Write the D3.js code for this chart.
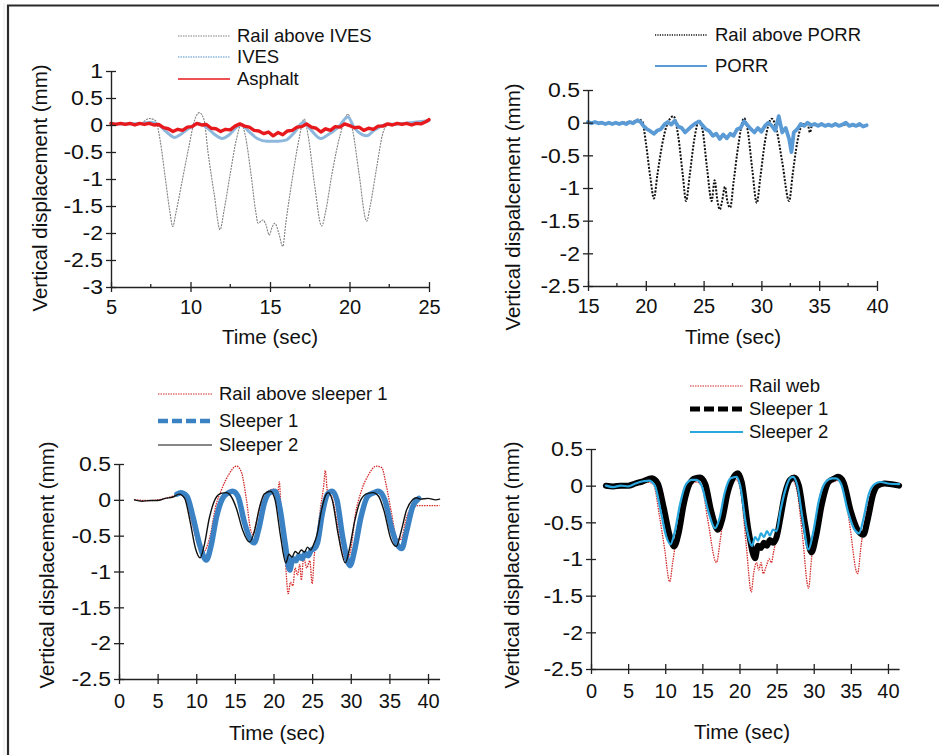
<!DOCTYPE html>
<html>
<head>
<meta charset="utf-8">
<script src="https://cdn.jsdelivr.net/npm/d3@7"></script>
<style>
  html, body { margin: 0; padding: 0; background: #fff; }
  svg { display: block; font-family: "Liberation Sans", Arial, sans-serif; }
</style>
</head>
<body>
<svg id="chart" width="939" height="755"></svg>
<script>
// ---------- Panel (a): rail above IVES, IVES and asphalt ----------
const railAboveIves = [[5,0.02],[6,0.02],[6.9,0.04],[7.4,0.12],[7.8,0.08],[8.1,-0.3],[8.4,-0.95],[8.7,-1.6],[8.88,-1.88],[9.1,-1.6],[9.5,-1.0],[9.9,-0.4],[10.25,0.08],[10.55,0.23],[10.85,0.1],[11.1,-0.5],[11.5,-1.3],[11.86,-1.94],[12.1,-1.6],[12.5,-0.9],[12.9,-0.25],[13.2,0.02],[13.45,-0.2],[13.8,-0.9],[14.1,-1.6],[14.25,-1.82],[14.55,-1.76],[14.75,-1.85],[14.95,-2.04],[15.15,-1.88],[15.3,-1.82],[15.55,-2.0],[15.8,-2.25],[16.0,-1.8],[16.4,-1.0],[16.8,-0.3],[17.15,0.11],[17.4,-0.2],[17.8,-1.1],[18.25,-1.87],[18.5,-1.6],[18.9,-0.9],[19.4,-0.2],[19.9,0.2],[20.2,-0.1],[20.6,-0.9],[21.08,-1.78],[21.3,-1.5],[21.7,-0.8],[22.1,-0.15],[22.4,0.0],[23,0.02],[24,0.03],[24.6,0.03],[25,0.08]];
const ives = [[5,0.02],[7,0.03],[7.5,0.05],[8,0.0],[8.5,-0.13],[9.0,-0.23],[9.4,-0.17],[10,-0.04],[10.5,0.03],[11,-0.04],[11.5,-0.17],[12.0,-0.25],[12.4,-0.19],[12.9,-0.04],[13.2,0.01],[13.6,-0.1],[14.2,-0.25],[14.8,-0.3],[15.5,-0.3],[16.0,-0.28],[16.5,-0.15],[17.1,0.05],[17.6,-0.1],[18.2,-0.25],[18.6,-0.19],[19.3,-0.04],[19.9,0.15],[20.3,-0.05],[20.8,-0.18],[21.1,-0.2],[21.5,-0.11],[22.2,0.0],[23,0.02],[25,0.08]];
const asphalt = [[5.0,0.03],[5.3,0.01],[5.6,0.03],[5.9,0.01],[6.2,0.03],[6.5,0.0],[6.8,0.03],[7.1,0.01],[7.4,0.03],[7.7,0.0],[8.0,0.01],[8.3,-0.05],[8.6,-0.07],[8.9,-0.12],[9.2,-0.08],[9.5,-0.1],[9.8,-0.04],[10.1,-0.03],[10.4,0.03],[10.7,0.0],[11.0,0.01],[11.3,-0.06],[11.6,-0.07],[11.9,-0.12],[12.2,-0.08],[12.5,-0.09],[12.8,-0.02],[13.1,0.02],[13.4,-0.02],[13.7,-0.04],[14.0,-0.1],[14.3,-0.11],[14.6,-0.16],[14.9,-0.13],[15.2,-0.2],[15.5,-0.14],[15.8,-0.18],[16.1,-0.11],[16.4,-0.1],[16.7,-0.04],[17.0,-0.03],[17.3,0.02],[17.6,-0.04],[17.9,-0.06],[18.2,-0.13],[18.5,-0.07],[18.8,-0.1],[19.1,-0.03],[19.4,-0.04],[19.7,0.02],[20.0,-0.01],[20.3,-0.05],[20.6,-0.04],[20.9,-0.1],[21.2,-0.06],[21.5,-0.08],[21.8,-0.02],[22.1,-0.02],[22.4,0.02],[22.7,0.0],[23.0,0.03],[23.3,0.01],[23.6,0.03],[23.9,0.0],[24.2,0.03],[24.5,0.02],[24.8,0.06],[25.0,0.1]];
const ticksXa = [5, 10, 15, 20, 25];
const ticksYa = [1, 0.5, 0, -0.5, -1, -1.5, -2, -2.5, -3];

// ---------- Panel (b): rail above PORR and PORR ----------
const railAbovePorr = [[15,0.0],[16,0.0],[17,-0.01],[18,0.0],[19,0.02],[19.4,0.05],[19.7,0.02],[20.0,-0.3],[20.4,-0.85],[20.7,-1.16],[21.0,-0.8],[21.4,-0.35],[21.8,-0.05],[22.4,0.1],[22.8,-0.2],[23.2,-0.8],[23.48,-1.2],[23.8,-0.8],[24.2,-0.25],[24.6,0.03],[24.9,-0.1],[25.3,-0.7],[25.7,-1.2],[25.95,-0.88],[26.2,-1.2],[26.4,-1.33],[26.6,-1.2],[26.85,-0.98],[27.05,-1.2],[27.3,-1.3],[27.6,-0.9],[28.0,-0.35],[28.5,0.07],[28.8,-0.1],[29.2,-0.7],[29.6,-1.23],[29.9,-0.85],[30.3,-0.3],[30.9,0.06],[31.3,-0.1],[31.8,-0.6],[32.4,-1.2],[32.7,-0.8],[33.1,-0.3],[33.6,-0.02],[34.0,-0.03],[34.2,-0.15],[34.4,-0.03],[35,-0.03],[36,-0.04],[37,-0.03],[38,-0.04],[39,-0.05]];
const porr = [[15.0,0.01],[15.3,-0.01],[15.6,0.01],[15.9,-0.01],[16.2,0.0],[16.5,-0.02],[16.8,0.0],[17.1,-0.02],[17.4,0.0],[17.7,-0.02],[18.0,0.0],[18.3,-0.02],[18.6,0.01],[18.9,-0.01],[19.2,0.03],[19.5,0.02],[19.8,-0.05],[20.1,-0.1],[20.4,-0.13],[20.7,-0.17],[21.0,-0.12],[21.3,-0.1],[21.6,-0.03],[21.9,0.01],[22.2,-0.03],[22.5,0.03],[22.8,-0.06],[23.1,-0.08],[23.4,-0.15],[23.7,-0.1],[24.0,-0.05],[24.3,-0.01],[24.6,0.02],[24.9,-0.04],[25.2,-0.1],[25.5,-0.13],[25.8,-0.2],[26.1,-0.17],[26.4,-0.25],[26.7,-0.18],[27.0,-0.24],[27.3,-0.17],[27.6,-0.2],[27.9,-0.1],[28.2,-0.08],[28.5,0.02],[28.8,-0.04],[29.1,-0.1],[29.4,-0.15],[29.7,-0.08],[30.0,-0.14],[30.3,-0.05],[30.6,0.0],[30.9,-0.05],[31.2,-0.12],[31.5,0.1],[31.8,-0.15],[32.1,-0.08],[32.4,-0.25],[32.6,-0.45],[32.8,-0.15],[33.1,-0.1],[33.4,-0.02],[33.7,-0.05],[34.0,0.0],[34.3,-0.04],[34.6,-0.02],[34.9,-0.05],[35.2,-0.02],[35.5,-0.05],[35.8,-0.03],[36.1,-0.05],[36.4,-0.02],[36.7,-0.05],[37.0,-0.03],[37.3,0.0],[37.6,-0.05],[37.9,-0.03],[38.2,-0.05],[38.5,-0.02],[38.8,-0.06],[39.1,-0.04]];
const ticksXb = [15, 20, 25, 30, 35, 40];
const ticksYb = [0.5, 0, -0.5, -1, -1.5, -2, -2.5];

// ---------- Panel (c): rail above sleeper 1, sleeper 1 and sleeper 2 ----------
const railAboveSleeper1 = [[2,0.0],[4,-0.01],[6,0.02],[7.8,0.07],[8.6,0.02],[9.4,-0.3],[10.2,-0.62],[10.8,-0.75],[11.2,-0.7],[11.8,-0.5],[12.5,-0.1],[13.3,0.15],[14.2,0.35],[15.2,0.47],[15.8,0.4],[16.5,0.0],[17.0,-0.4],[17.3,-0.48],[17.8,-0.3],[18.5,0.0],[19.3,0.12],[20.0,0.15],[20.5,0.05],[20.75,0.25],[21.0,-0.2],[21.5,-0.8],[21.9,-1.31],[22.2,-1.15],[22.5,-1.2],[22.8,-0.95],[23.1,-1.05],[23.4,-0.9],[23.6,-1.12],[23.9,-0.8],[24.3,-0.95],[24.7,-0.85],[25.0,-1.17],[25.3,-0.75],[25.6,-0.55],[26.1,-0.1],[26.5,0.2],[26.7,0.41],[27.0,0.1],[27.5,0.05],[28.2,-0.3],[28.8,-0.7],[29.4,-0.85],[30.0,-0.7],[30.6,-0.2],[31.3,0.1],[32.3,0.35],[33.3,0.47],[34.0,0.45],[34.6,0.2],[35.3,-0.2],[36.0,-0.55],[36.5,-0.55],[37.2,-0.25],[38.0,-0.1],[38.9,-0.08],[40,-0.08],[41.5,-0.08]];
const sleeper1c = [[7.5,0.08],[8,0.1],[8.8,0.05],[9.6,-0.25],[10.5,-0.65],[11.3,-0.84],[11.9,-0.65],[12.6,-0.25],[13.4,0.02],[14.2,0.1],[14.7,0.12],[15.4,0.05],[16.2,-0.3],[17.0,-0.55],[17.5,-0.6],[18.1,-0.4],[18.8,-0.05],[19.5,0.1],[20.2,0.12],[20.8,-0.1],[21.5,-0.6],[22.1,-0.98],[22.5,-0.82],[22.9,-0.85],[23.3,-0.78],[23.7,-0.82],[24.1,-0.75],[24.5,-0.78],[24.9,-0.7],[25.3,-0.68],[25.7,-0.6],[26.3,-0.2],[27.0,0.08],[27.6,0.12],[28.2,0.0],[29.0,-0.55],[29.9,-0.92],[30.5,-0.7],[31.3,-0.25],[32.2,0.05],[33.0,0.1],[33.6,0.12],[34.4,0.0],[35.3,-0.4],[36.0,-0.62],[36.6,-0.68],[37.2,-0.45],[38.0,-0.1],[38.8,0.02]];
const sleeper2c = [[2,0.0],[3,-0.02],[4,-0.01],[5,-0.01],[6,0.02],[7,0.04],[7.8,0.08],[8.5,0.02],[9.2,-0.3],[9.9,-0.68],[10.5,-0.81],[11.0,-0.65],[11.7,-0.25],[12.5,0.02],[13.2,0.09],[13.9,0.1],[14.5,0.05],[15.2,-0.12],[16.0,-0.42],[16.9,-0.59],[17.5,-0.45],[18.2,-0.1],[18.8,0.08],[19.6,0.12],[20.2,0.0],[20.9,-0.5],[21.6,-0.88],[22.0,-0.76],[22.4,-0.8],[22.8,-0.72],[23.2,-0.75],[23.6,-0.7],[24.0,-0.73],[24.4,-0.66],[24.8,-0.7],[25.2,-0.62],[25.6,-0.5],[26.2,-0.15],[26.7,0.05],[27.1,0.1],[27.6,0.0],[28.4,-0.5],[29.3,-0.88],[29.8,-0.7],[30.5,-0.3],[31.3,0.0],[32.2,0.09],[32.9,0.1],[33.6,0.05],[34.3,-0.15],[35.2,-0.55],[35.9,-0.65],[36.5,-0.45],[37.2,-0.15],[38.0,0.0],[38.5,0.03],[39,0.01],[40,0.02],[41,0.0],[41.5,0.01]];
const ticksXc = [0, 5, 10, 15, 20, 25, 30, 35, 40];
const ticksYc = [0.5, 0, -0.5, -1, -1.5, -2, -2.5];

// ---------- Panel (d): rail web, sleeper 1 and sleeper 2 ----------
const railWeb = [[2,0.0],[4,0.0],[6,0.02],[7.5,0.05],[8.4,0.02],[9.2,-0.4],[9.9,-0.85],[10.6,-1.31],[11.0,-1.05],[11.6,-0.65],[12.4,-0.25],[13.3,0.0],[14.2,0.05],[14.9,0.0],[15.7,-0.45],[16.9,-1.05],[17.4,-0.75],[18.0,-0.3],[18.8,0.0],[19.6,0.08],[20.2,-0.1],[20.9,-0.8],[21.6,-1.45],[21.9,-1.2],[22.3,-1.05],[22.6,-1.15],[22.9,-1.05],[23.2,-1.2],[23.6,-1.1],[24.0,-1.0],[24.3,-1.05],[24.6,-0.9],[25.0,-0.7],[25.5,-0.4],[26.2,-0.05],[27.2,0.07],[27.8,-0.1],[28.5,-0.7],[29.3,-1.4],[29.7,-1.0],[30.4,-0.4],[31.3,0.0],[32.5,0.05],[33.3,0.07],[34.0,0.0],[34.8,-0.5],[35.9,-1.2],[36.4,-0.8],[37.2,-0.3],[38.2,0.0],[39,0.02],[41.5,0.0]];
const sleeper1d = [[2,0.0],[3,-0.01],[4,0.0],[5,0.0],[6,0.03],[7,0.06],[8.2,0.1],[9.0,0.03],[9.8,-0.3],[10.6,-0.68],[11.2,-0.83],[11.8,-0.65],[12.5,-0.25],[13.3,0.03],[14.0,0.1],[14.7,0.11],[15.4,0.02],[16.2,-0.35],[17.1,-0.6],[17.7,-0.45],[18.4,-0.1],[19.1,0.1],[19.8,0.17],[20.3,0.05],[21.2,-0.6],[22.1,-0.99],[22.5,-0.82],[22.9,-0.85],[23.3,-0.78],[23.7,-0.82],[24.1,-0.74],[24.5,-0.78],[25.0,-0.7],[25.5,-0.45],[26.1,-0.12],[26.8,0.08],[27.4,0.11],[28.0,0.0],[28.8,-0.5],[29.7,-0.91],[30.3,-0.7],[31.1,-0.25],[32.0,0.05],[32.8,0.1],[33.3,0.12],[34.0,0.05],[35.0,-0.35],[35.9,-0.6],[36.7,-0.67],[37.3,-0.45],[38.0,-0.12],[38.6,0.0],[39.5,0.03],[40.5,0.02],[41.5,0.0]];
const sleeper2d = [[2,0.0],[3,-0.02],[4,0.0],[5,-0.01],[6,0.03],[7,0.06],[7.8,0.07],[8.6,0.0],[9.4,-0.35],[10.1,-0.68],[10.7,-0.8],[11.3,-0.62],[12.0,-0.25],[12.8,0.02],[13.6,0.08],[14.2,0.08],[14.9,0.0],[15.8,-0.35],[16.7,-0.58],[17.3,-0.45],[18.0,-0.1],[18.8,0.1],[19.6,0.12],[20.1,0.0],[20.9,-0.55],[21.7,-0.82],[22.1,-0.7],[22.5,-0.75],[22.9,-0.65],[23.3,-0.7],[23.7,-0.62],[24.1,-0.68],[24.5,-0.6],[25.0,-0.62],[25.5,-0.35],[26.2,-0.05],[26.8,0.1],[27.2,0.12],[27.8,0.0],[28.5,-0.45],[29.3,-0.87],[29.9,-0.65],[30.7,-0.2],[31.6,0.05],[32.5,0.1],[33.0,0.1],[33.7,0.02],[34.6,-0.35],[35.5,-0.6],[36.1,-0.65],[36.7,-0.45],[37.4,-0.12],[38.2,0.02],[39,0.05],[40,0.03],[41.5,0.02]];
const ticksXd = [0, 5, 10, 15, 20, 25, 30, 35, 40];
const ticksYd = [0.5, 0, -0.5, -1, -1.5, -2, -2.5];

// ---------- drawing ----------
const svg = d3.select("#chart");
svg.append("rect").attr("width", 939).attr("height", 755).attr("fill", "#fff");

// figure frame (left and top edges)
svg.append("line").attr("x1", 4).attr("x2", 4).attr("y1", 3).attr("y2", 755).attr("stroke", "#e4e4e4").attr("stroke-width", 1);
svg.append("path").attr("d", "M8,755 L8,5.5 L939,5.5").attr("fill", "none").attr("stroke", "#2a2a2a").attr("stroke-width", 2.2);

// y tick labels are set a little wide
const yLabelStretch = 1.18;

function drawPanel(p) {
  const g = svg.append("g");
  const x = d3.scaleLinear().domain(p.xDomain).range(p.xRange);
  const y = d3.scaleLinear().domain(p.yDomain).range(p.yRange);

  // series
  p.series.forEach(s => {
    const line = d3.line().x(d => x(d[0])).y(d => y(d[1]))
      .curve(s.smooth ? d3.curveMonotoneX : d3.curveLinear);
    g.append("path").datum(s.data)
      .attr("d", line)
      .attr("fill", "none")
      .attr("stroke", s.color)
      .attr("stroke-width", s.width)
      .attr("stroke-dasharray", s.plotDash || null)
      .attr("stroke-linejoin", "round")
      .attr("stroke-linecap", s.plotDash ? "butt" : "round");
  });

  // y axis with ticks crossing the spine
  const x0 = p.xRange[0], y0 = p.yRange[0];
  const yAxis = g.append("g").attr("transform", `translate(${x0},0)`)
    .call(d3.axisLeft(y).tickValues(p.yTicks).tickFormat(d => String(d)).tickSizeOuter(0).tickSizeInner(5));
  yAxis.selectAll(".tick line").attr("x1", -5).attr("x2", 5);
  yAxis.selectAll(".tick text")
    .attr("x", -8 / yLabelStretch).attr("dy", "0.35em")
    .attr("transform", `scale(${yLabelStretch},1)`);

  // x axis with ticks crossing the spine
  const xAxis = g.append("g").attr("transform", `translate(0,${y0})`)
    .call(d3.axisBottom(x).tickValues(p.xTicks).tickFormat(d => String(d)).tickSizeOuter(0).tickSizeInner(5));
  xAxis.selectAll(".tick line").attr("y1", -5).attr("y2", 5);
  xAxis.selectAll(".tick text").attr("y", p.xLabelGap).attr("dy", "0.71em");
  if (p.xMinor) {
    xAxis.selectAll(".minor").data(p.xMinor).enter().append("line")
      .attr("x1", d => x(d)).attr("x2", d => x(d)).attr("y1", -3).attr("y2", 1)
      .attr("stroke", "#222").attr("stroke-width", 1.3);
  }

  [yAxis, xAxis].forEach(a => {
    a.select(".domain").attr("stroke", "#222").attr("stroke-width", 1.4);
    a.selectAll(".tick line").attr("stroke", "#222").attr("stroke-width", 1.3);
    a.selectAll(".tick text").attr("fill", "#111").style("font-family", "Liberation Sans, Arial, sans-serif");
  });
  yAxis.selectAll(".tick text").style("font-size", "19.5px");
  xAxis.selectAll(".tick text").style("font-size", "20px");

  // axis titles
  g.append("text").attr("x", p.xTitle[0]).attr("y", p.xTitle[1])
    .attr("text-anchor", "middle").attr("dy", "0.35em")
    .style("font-size", "20.5px").attr("fill", "#111").text("Time (sec)");
  g.append("text").attr("transform", `translate(${p.yTitle[0]},${p.yTitle[1]}) rotate(-90)`)
    .attr("text-anchor", "middle").attr("dy", "0.35em")
    .style("font-size", "20.5px").attr("fill", "#111").text(p.yLabel);

  // legend
  p.series.forEach((s, i) => {
    const ly = p.legend.y[i];
    g.append("line").attr("x1", p.legend.x1).attr("x2", p.legend.x2)
      .attr("y1", ly).attr("y2", ly)
      .attr("stroke", s.color).attr("stroke-width", s.legendWidth)
      .attr("stroke-dasharray", s.legendDash || null);
    g.append("text").attr("x", p.legend.tx).attr("y", ly).attr("dy", "0.35em")
      .style("font-size", "18.5px").attr("fill", "#111").text(s.name);
  });
}

drawPanel({
  xDomain: [5, 25], xRange: [111, 429], yDomain: [-3, 1], yRange: [287, 71],
  xTicks: ticksXa, yTicks: ticksYa, xMinor: [7.5, 12.5, 17.5, 22.5], xLabelGap: 13,
  xTitle: [270, 337], yTitle: [40, 188], yLabel: "Vertical displacement (mm)",
  legend: { x1: 178, x2: 230, tx: 237, y: [36, 57, 79] },
  series: [
    { name: "Rail above IVES", data: railAboveIves, color: "#808080", width: 1.1, plotDash: "2,1", legendWidth: 1.2, legendDash: "1.5,1", smooth: true },
    { name: "IVES", data: ives, color: "#8db7dc", width: 3, legendWidth: 1.5, legendDash: "1.5,1", smooth: true },
    { name: "Asphalt", data: asphalt, color: "#e8191c", width: 3.4, legendWidth: 1.6, smooth: false }
  ]
});

drawPanel({
  xDomain: [15, 40], xRange: [588, 877], yDomain: [-2.5, 0.5], yRange: [286, 90],
  xTicks: ticksXb, yTicks: ticksYb, xMinor: [17.5, 22.5, 27.5, 32.5, 37.5], xLabelGap: 13,
  xTitle: [733, 337], yTitle: [513, 207], yLabel: "Vertical dispalcement (mm)",
  legend: { x1: 655, x2: 707, tx: 715, y: [35, 66] },
  series: [
    { name: "Rail above PORR", data: railAbovePorr, color: "#111", width: 2, plotDash: "2,1.5", legendWidth: 1.5, legendDash: "1.2,1.2", smooth: true },
    { name: "PORR", data: porr, color: "#5b9bd5", width: 3.8, legendWidth: 2, smooth: false }
  ]
});

drawPanel({
  xDomain: [0, 41.5], xRange: [119, 439.6], yDomain: [-2.5, 0.5], yRange: [679, 464],
  xTicks: ticksXc, yTicks: ticksYc, xLabelGap: 15,
  xTitle: [277, 733], yTitle: [47, 565], yLabel: "Vertical displacement (mm)",
  legend: { x1: 158, x2: 212, tx: 219, y: [394, 421, 445] },
  series: [
    { name: "Rail above sleeper 1", data: railAboveSleeper1, color: "#d42a2a", width: 1.3, plotDash: "1.5,1", legendWidth: 1.2, legendDash: "1.5,1", smooth: true },
    { name: "Sleeper 1", data: sleeper1c, color: "#3b82c4", width: 5.5, legendWidth: 4.5, legendDash: "10,4", smooth: true },
    { name: "Sleeper 2", data: sleeper2c, color: "#111", width: 1.4, legendWidth: 1.2, smooth: true }
  ]
});

drawPanel({
  xDomain: [0, 41.5], xRange: [591, 899.1], yDomain: [-2.5, 0.5], yRange: [669, 449],
  xTicks: ticksXd, yTicks: ticksYd, xLabelGap: 15,
  xTitle: [742, 732], yTitle: [512, 565], yLabel: "Vertical displacement (mm)",
  legend: { x1: 690, x2: 743, tx: 749, y: [386, 409, 432] },
  series: [
    { name: "Rail web", data: railWeb, color: "#d42a2a", width: 1.3, plotDash: "1.5,1", legendWidth: 1.2, legendDash: "1.5,1", smooth: true },
    { name: "Sleeper 1", data: sleeper1d, color: "#000", width: 6, legendWidth: 5, legendDash: "10,4", smooth: true },
    { name: "Sleeper 2", data: sleeper2d, color: "#29a8e0", width: 2.2, legendWidth: 1.8, smooth: true }
  ]
});
</script>
</body>
</html>
